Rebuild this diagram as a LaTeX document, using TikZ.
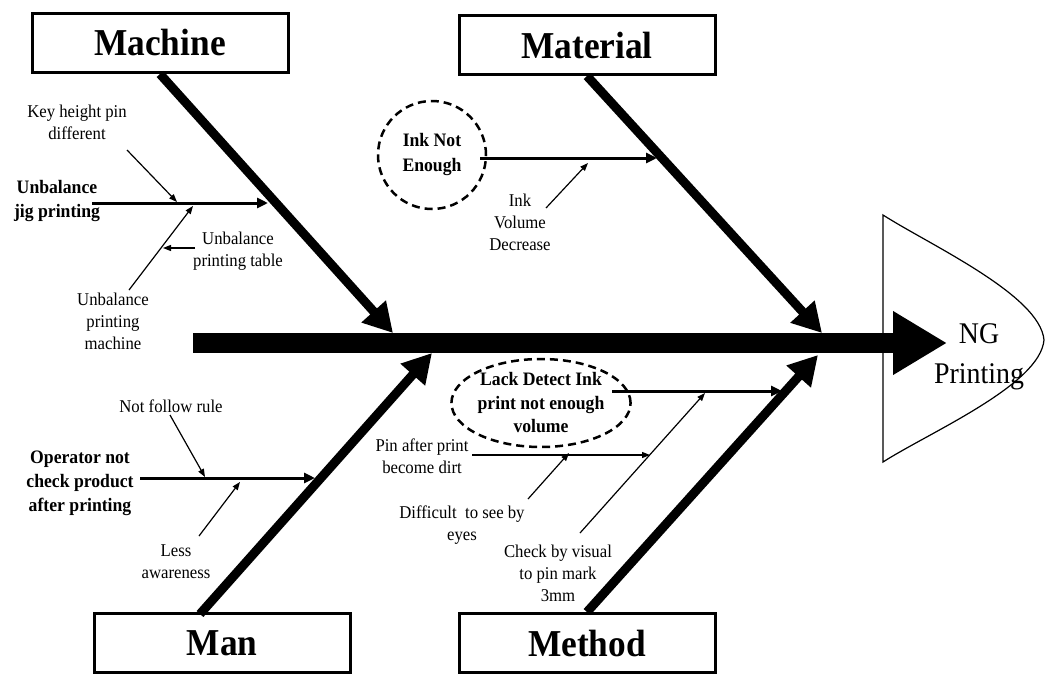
\documentclass[tikz,border=0pt]{standalone}
\usepackage{fontspec}
\setmainfont{Liberation Serif}[FakeStretch=0.93]
\usetikzlibrary{arrows.meta,shapes.geometric}
\tikzset{
  catbox/.style={draw,line width=3pt,minimum width=256pt,minimum height=59pt,inner sep=0pt,font=\fontsize{38}{40}\selectfont\bfseries},
  spine/.style={line width=20pt,-{Triangle[length=54pt,width=60pt]}},
  bone/.style={line width=9pt,-{Triangle[length=29pt,width=31pt]}},
  cause/.style={line width=3pt,-{Triangle[length=11pt,width=10pt]}},
  why/.style={line width=1.2pt,-{Triangle[length=8pt,width=6pt]}},
  small/.style={align=center,inner sep=0pt,font=\fontsize{18}{22}\selectfont},
  heavy/.style={align=center,inner sep=0pt,font=\fontsize{19}{24}\selectfont\bfseries},
  ring/.style={draw,dashed,line width=2.5pt,dash pattern=on 8pt off 5pt},
}
\begin{document}
\begin{tikzpicture}[x=1pt,y=-1pt]
  \useasboundingbox (0,0) rectangle (1045,675);
  \draw[line width=1.2pt] (883,215) .. controls (930,245) and (1040,295) .. (1044,340)
    .. controls (1040,385) and (930,432) .. (883,462) -- cycle;
  \path
    (160,43) node[catbox] (machine) {Machine}
    (587,45) node[catbox] (material) {Material}
    (222,643) node[catbox] (man) {Man}
    (587,643) node[catbox] (method) {Method}
    (979,357) node[align=center,inner sep=0pt,font=\fontsize{30}{40}\selectfont] (ng) {NG\\Printing}
    (57,201) node[heavy] (jig) {Unbalance\\jig printing}
    (77,122) node[small] (keypin) {Key height pin\\different}
    (238,251) node[small] (table) {Unbalance\\printing table}
    (113,321) node[small] (printer) {Unbalance\\printing\\machine}
    (432,155) node[ring,circle,minimum size=108pt,inner sep=0pt,align=center,font=\fontsize{19}{25}\selectfont\bfseries] (ink) {Ink Not\\Enough}
    (520,222) node[small] (volume) {Ink\\Volume\\Decrease}
    (80,483) node[heavy] (operator) {Operator not\\check product\\after printing}
    (171,406) node[small] (rule) {Not follow rule}
    (176,562) node[small] (aware) {Less\\awareness}
    (541,403) node[ring,ellipse,minimum width=166pt,minimum height=88pt,inner sep=0pt,align=center,font=\fontsize{19}{23.5}\selectfont\bfseries] (lack) {Lack Detect Ink\\print not enough\\volume}
    (422,456) node[small] (dirt) {Pin after print\\become dirt}
    (462,525) node[small] (eyes) {Difficult~ to see by\\eyes}
    (558,573) node[small] (visual) {Check by visual\\to pin mark\\3mm};
  \path
    (193,343) coordinate (tail) (947,343) coordinate (head)
    (393,333) coordinate (machineT) (822,333) coordinate (materialT)
    (200,614) coordinate (manS) (432,353) coordinate (manT) (818,355) coordinate (methodT)
    (92,203) coordinate (jigS) (268,203) coordinate (jigT)
    (127,150) coordinate (keypinS) (177,202) coordinate (keypinT)
    (129,290) coordinate (printerS) (193,206) coordinate (printerT)
    (195,248) coordinate (tableS) (163,248) coordinate (tableT)
    (480,158) coordinate (inkS) (657,158) coordinate (inkT)
    (546,208) coordinate (volumeS) (588,163) coordinate (volumeT)
    (140,478) coordinate (operatorS) (315,478) coordinate (operatorT)
    (170,415) coordinate (ruleS) (205,477) coordinate (ruleT)
    (199,536) coordinate (awareS) (240,482) coordinate (awareT)
    (612,391) coordinate (lackS) (782,391) coordinate (lackT)
    (472,455) coordinate (dirtS) (650,455) coordinate (dirtT)
    (528,499) coordinate (eyesS) (569,453) coordinate (eyesT)
    (580,533) coordinate (visualS) (705,393) coordinate (visualT);
  \draw[spine] (tail) -- (head);
  \begin{scope}[bone]
    \draw (machine.south) to (machineT);
    \draw (material.south) to (materialT);
    \draw (manS) to (manT);
    \draw (method.north) to (methodT);
  \end{scope}
  \begin{scope}[cause]
    \draw (jigS) to (jigT);
    \draw (inkS) to (inkT);
    \draw (operatorS) to (operatorT);
    \draw (lackS) to (lackT);
  \end{scope}
  \begin{scope}[why]
    \draw (keypinS) to (keypinT);
    \draw (printerS) to (printerT);
    \draw (tableS) to (tableT);
    \draw (volumeS) to (volumeT);
    \draw (ruleS) to (ruleT);
    \draw (awareS) to (awareT);
    \draw (dirtS) to (dirtT);
    \draw (eyesS) to (eyesT);
    \draw (visualS) to (visualT);
  \end{scope}
\end{tikzpicture}
\end{document}
